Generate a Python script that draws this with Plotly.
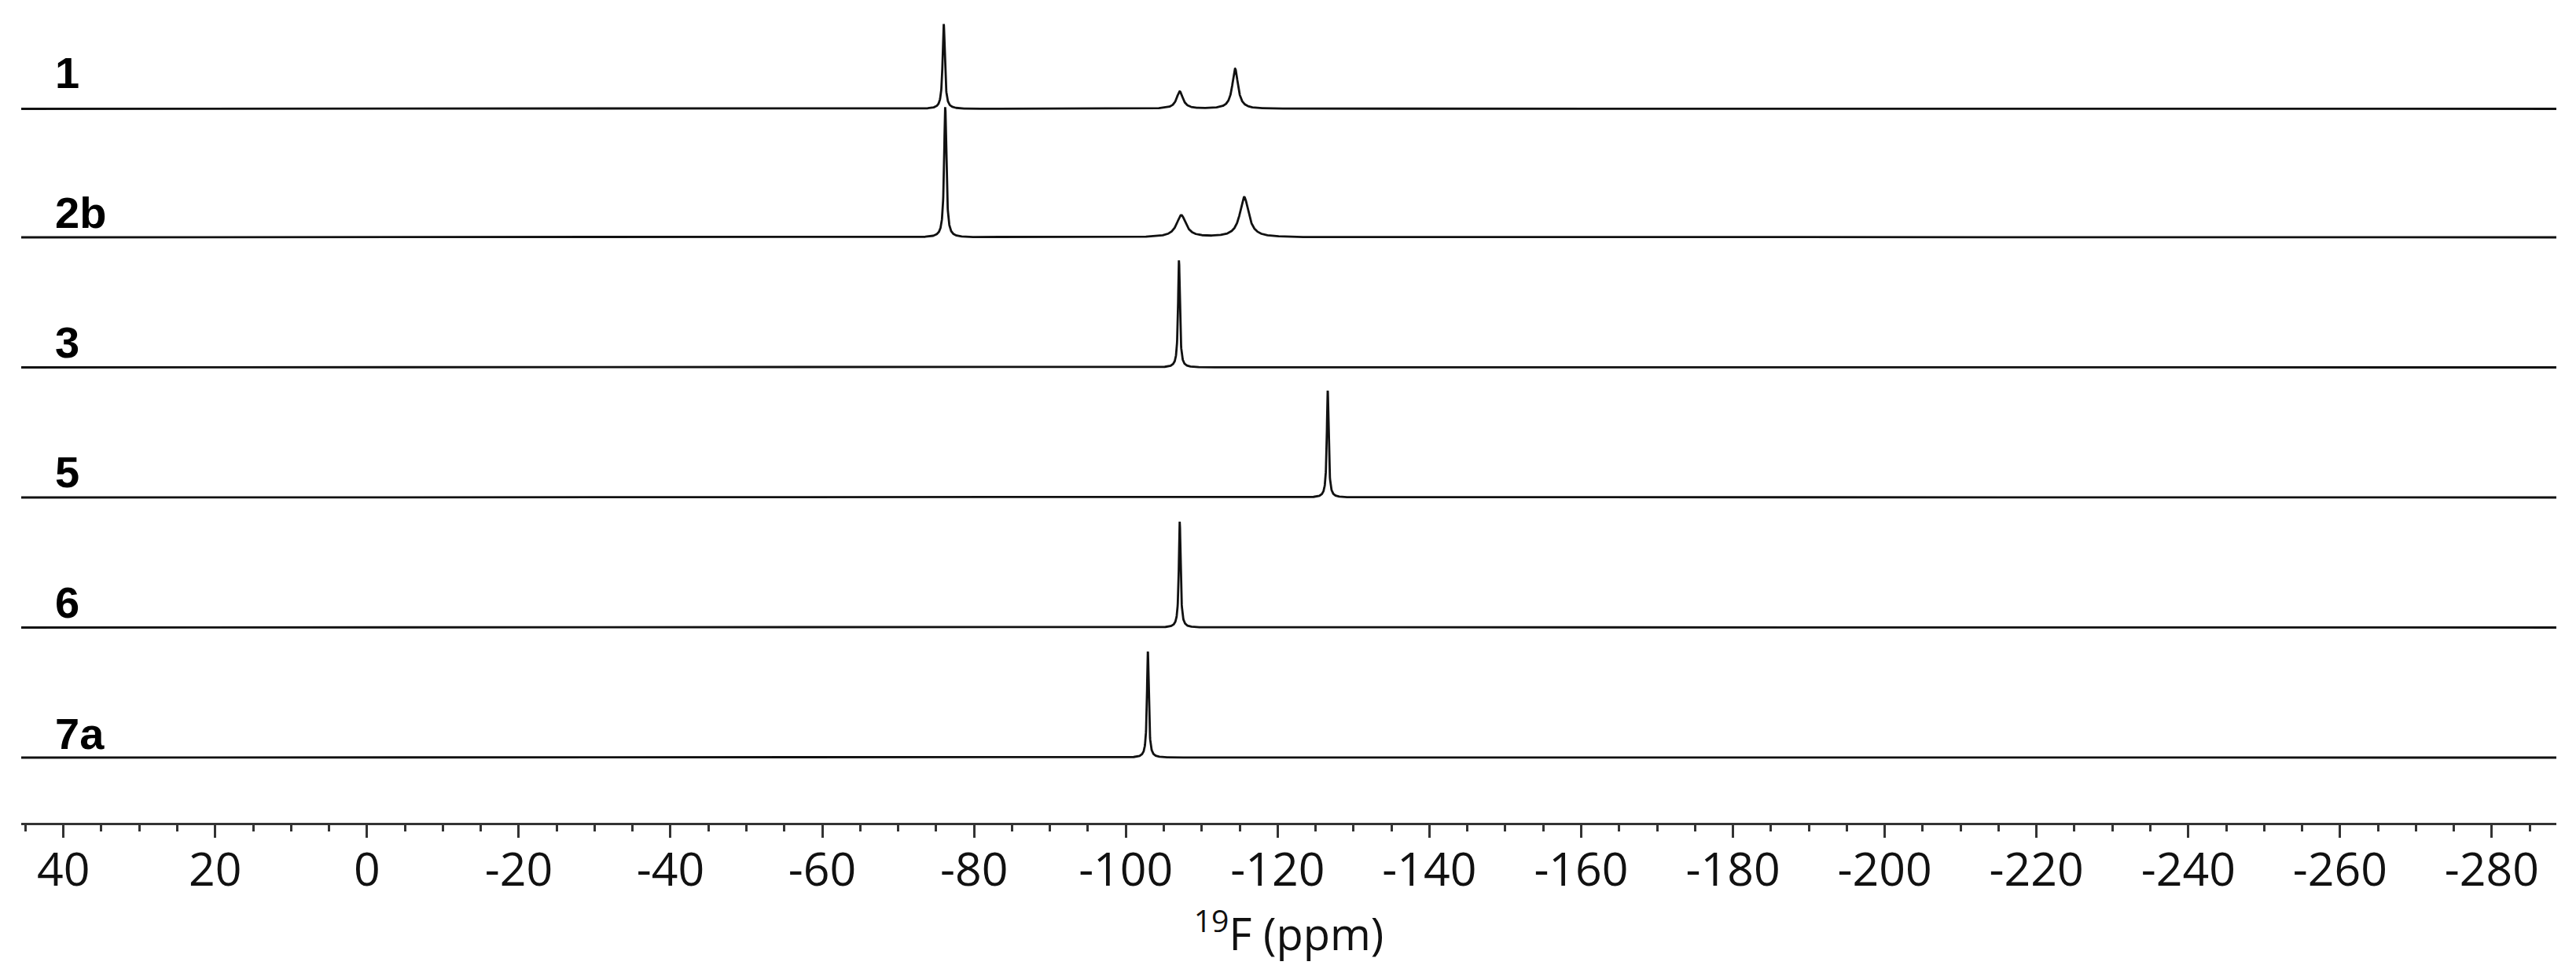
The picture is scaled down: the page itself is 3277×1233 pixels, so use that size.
import numpy as np
import plotly.graph_objects as go

# ---------------- data ----------------
sample_labels = ["1", "2b", "3", "5", "6", "7a"]

# peak lists per spectrum: chemical shift (ppm), height (arb. units), line width FWHM (ppm)
peak_shifts = [
    [-76.0, -107.1, -114.4],
    [-76.2, -107.3, -115.6],
    [-107.0],
    [-126.6],
    [-107.1],
    [-102.9],
]
peak_heights = [
    [108, 22, 51],
    [166, 28, 51],
    [137],
    [136],
    [135],
    [135],
]
peak_widths = [
    [0.35, 1.0, 0.9],
    [0.35, 1.5, 1.4],
    [0.28],
    [0.28],
    [0.28],
    [0.28],
]

labeled_ticks = list(range(40, -281, -20))
major_ticks = list(range(40, -281, -10))

# ---------------- layout / style (not data) ----------------
W, H = 3277, 1233
ML, MR, MT, MB = 27, 25, 0, 186
x_range = [45.56, -288.5]
plot_h = H - MT - MB
stack_offsets = [908.5, 745, 579.5, 414, 248.5, 83]
label_gaps = [13, -2, -1, -1, -1, -3]
label_x = 41.3
line_color = "#111111"
axis_color = "#333"

ppm = np.linspace(x_range[0], x_range[1], 16000)

fig = go.Figure()
for i, name in enumerate(sample_labels):
    y = np.zeros_like(ppm)
    for c, h, w in zip(peak_shifts[i], peak_heights[i], peak_widths[i]):
        g = w / 2.0
        y += h * g * g / ((ppm - c) ** 2 + g * g)
    fig.add_trace(go.Scatter(
        x=ppm, y=y + stack_offsets[i], mode="lines", name=name,
        line=dict(color=line_color, width=2.8), showlegend=False,
        hoverinfo="skip",
    ))
    fig.add_annotation(
        x=label_x, y=stack_offsets[i] + label_gaps[i], xref="x", yref="y",
        text="<b>%s</b>" % name, showarrow=False, xanchor="left", yanchor="bottom",
        font=dict(family="Liberation Sans, Arial, sans-serif", size=56, color="#000"),
    )

fig.update_layout(
    width=W, height=H,
    margin=dict(l=ML, r=MR, t=MT, b=MB, autoexpand=False),
    paper_bgcolor="white", plot_bgcolor="white",
    xaxis=dict(
        range=x_range, showgrid=False, zeroline=False,
        showline=True, linecolor=axis_color, linewidth=3,
        tickmode="array", tickvals=labeled_ticks,
        ticktext=[str(v) for v in labeled_ticks],
        ticks="outside", ticklen=16, tickwidth=3, tickcolor=axis_color,
        ticklabelstandoff=-10,
        tickfont=dict(family="Open Sans, sans-serif", size=59, color="#111"),
        minor=dict(tickmode="linear", tick0=0, dtick=5, ticks="outside",
                   ticklen=8, tickwidth=3, tickcolor=axis_color),
        title=dict(text="<sup>19</sup>F (ppm)", standoff=18,
                   font=dict(family="Open Sans, sans-serif", size=56, color="#111")),
        automargin=False,
    ),
    xaxis2=dict(
        overlaying="x", matches="x", side="bottom", anchor="y",
        range=x_range, showgrid=False, zeroline=False, showline=False,
        tickmode="array", tickvals=major_ticks, showticklabels=False,
        ticks="outside", ticklen=16, tickwidth=3, tickcolor=axis_color,
        automargin=False,
    ),
    yaxis=dict(range=[0, plot_h], visible=False, fixedrange=True),
)

fig.write_html(
    "out.html",
    config={"displayModeBar": False},
    post_script="document.body.style.margin='0';document.body.style.padding='0';",
)
